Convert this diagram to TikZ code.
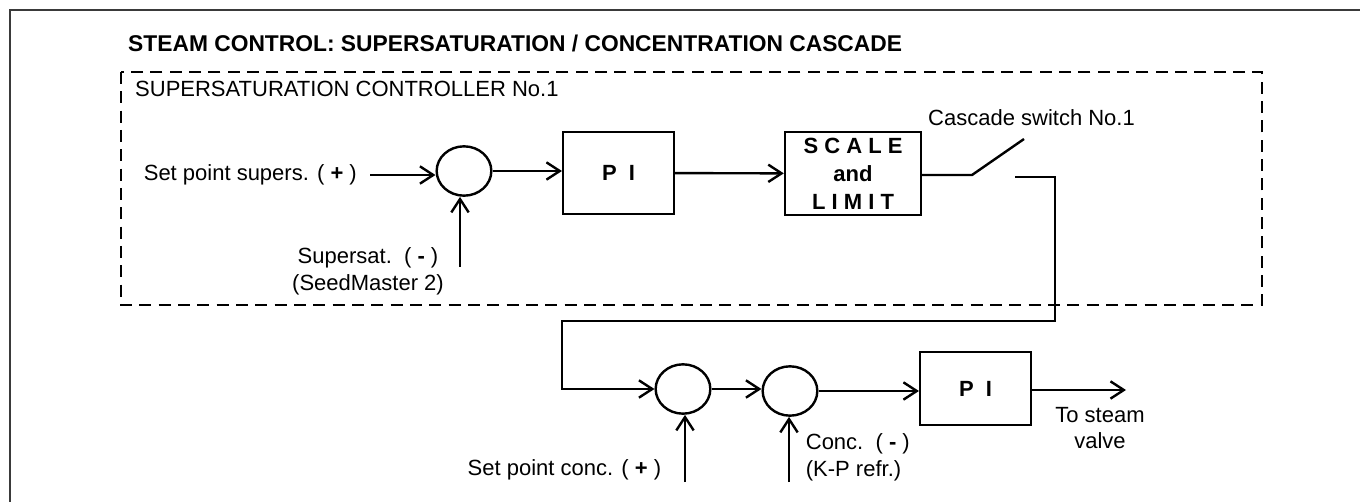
\documentclass[tikz,border=0pt]{standalone}
\usepackage{fontspec}
\setmainfont{Liberation Sans}
\usetikzlibrary{arrows.meta,shapes.geometric}
\definecolor{FrameGray}{HTML}{3A3A3A}

\begin{document}
\begin{tikzpicture}[x=.75pt,y=-.75pt,font=\fontsize{16.5}{20}\selectfont,line width=1.8pt,
  sig/.style={-{Straight Barb[length=10pt,width=13pt]}},
  sumpt/.style={draw,ellipse,minimum width=41pt,minimum height=37pt,inner sep=0pt},
  blk/.style={draw,rectangle,minimum width=83pt,font=\fontsize{16.5}{21}\selectfont\bfseries,align=center},
  lbl/.style={inner sep=2pt,align=center}]
\useasboundingbox (0,0) rectangle (1360,502);
\draw[FrameGray,line width=1.2pt] (10,502) -- (10,10) -- (1360,10);
\node[anchor=base west,inner sep=0pt,font=\fontsize{17.1}{20}\selectfont\bfseries] (title) at (127,52) {STEAM CONTROL: SUPERSATURATION / CONCENTRATION CASCADE};
\draw[dash pattern=on 9pt off 5.5pt,line width=2.1pt] (121,72) rectangle (1262,305);
\node[anchor=base west,inner sep=0pt] (ctrl) at (134,97) {SUPERSATURATION CONTROLLER No.1};
% supersaturation loop
\node[lbl,inner xsep=9pt,anchor=east] (spsup) at (370,175) {Set point supers. ( \textbf{+} )};
\node[sumpt] (sum1) at (464,171) {};
\node[blk,minimum height=61.5pt] (pi1) at (618.5,173) {P\ \ I};
\node[blk,minimum width=102pt,minimum height=62pt] (scale) at (853,173.5) {S C A L E\\and\\L I M I T};
\node[lbl] (supin) at (368,271) {Supersat.\ \ ( \textbf{-} )\\(SeedMaster 2)};
\coordinate (supbot) at (460,267);
\draw[sig] (spsup.east) -- (spsup.east -| sum1.west);
\draw[sig] (supbot) -- (supbot |- sum1.south);
\draw[sig] (sum1.east) -- (sum1.east -| pi1.west);
\draw[sig] (pi1) -- (scale);
% cascade switch
\coordinate (swp) at (972,175);
\coordinate (swtip) at (1024,139);
\coordinate (swc) at (1015,177);
\node[anchor=base west,inner sep=0pt] (swlbl) at (927,126) {Cascade switch No.1};
\draw (scale.east |- swp) -- (swp) -- (swtip);
% concentration loop
\node[sumpt] (sum2) at (683,389) {};
\node[sumpt] (sum3) at (790,391) {};
\node[blk,minimum height=55pt] (pi2) at (975.5,388.5) {P\ \ I};
\coordinate (rtop) at (1055,321);
\coordinate (rleft) at (562,321);
\draw[sig] (swc) -| (rtop) -- (rleft) |- (sum2.west);
\node[lbl,anchor=east] (spconc) at (665,470) {Set point conc. ( \textbf{+} )};
\node[lbl,anchor=west,align=left] (concin) at (802,457) {Conc.\ \ ( \textbf{-} )\\(K-P refr.)};
\coordinate (c2bot) at (685,482);
\coordinate (c3bot) at (789,482);
\draw[sig] (c2bot) -- (c2bot |- sum2.south);
\draw[sig] (c3bot) -- (c3bot |- sum3.south);
\draw[sig] (sum2.east) -- (sum2.east -| sum3.west);
\draw[sig] (sum3.east) -- (sum3.east -| pi2.west);
\coordinate (valve) at (1126,390);
\draw[sig] (pi2.east |- valve) -- (valve);
\node[lbl] (tolbl) at (1100,428) {To steam\\valve};
\end{tikzpicture}
\end{document}
